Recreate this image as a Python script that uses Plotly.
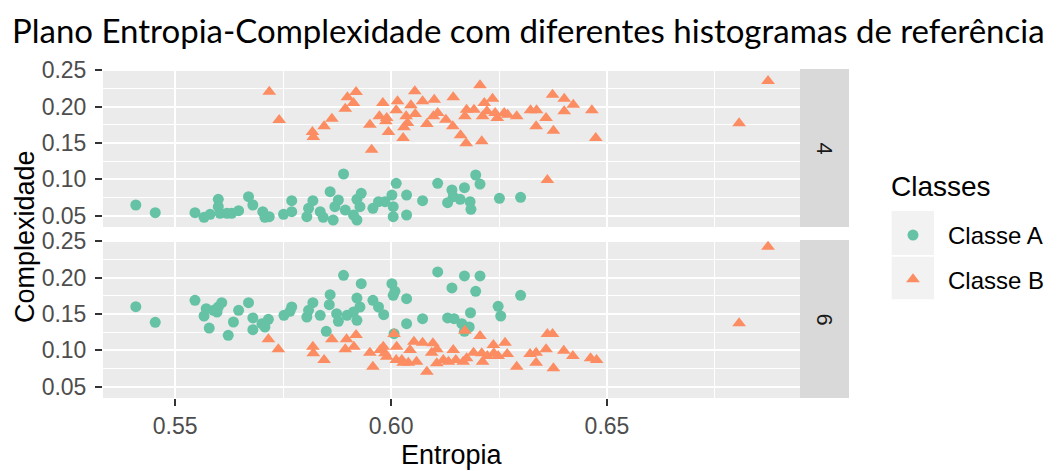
import plotly.graph_objects as go

# ---------------- data ----------------
# Dimensão 4 - Classe A
ent_d4_a = [0.5409, 0.5454, 0.5546, 0.5567, 0.5581, 0.5600, 0.5600, 0.5604, 0.5620, 0.5631,
            0.5647, 0.5670, 0.5680, 0.5703, 0.5708, 0.5718, 0.5751, 0.5770, 0.5770, 0.5805,
            0.5809, 0.5819, 0.5836, 0.5843, 0.5859, 0.5866, 0.5878, 0.5870, 0.5890, 0.5894,
            0.5913, 0.5921, 0.5921, 0.5931, 0.5928, 0.5958, 0.5971, 0.5986, 0.6002, 0.6012,
            0.6005, 0.6005, 0.6036, 0.6036, 0.6073, 0.6108, 0.6131, 0.6141, 0.6144, 0.6170,
            0.6160, 0.6183, 0.6185, 0.6196, 0.6206, 0.6251, 0.6300]
com_d4_a = [0.0647, 0.0541, 0.0541, 0.0478, 0.0519, 0.0725, 0.0624, 0.0533, 0.0533, 0.0533,
            0.0569, 0.0761, 0.0647, 0.0555, 0.0478, 0.0486, 0.0519, 0.0706, 0.0555, 0.0486,
            0.0602, 0.0706, 0.0555, 0.0478, 0.0830, 0.0441, 0.0716, 0.0624, 0.1073, 0.0578,
            0.0510, 0.0441, 0.0725, 0.0808, 0.0624, 0.0602, 0.0692, 0.0692, 0.0784, 0.0945,
            0.0624, 0.0486, 0.0784, 0.0510, 0.0706, 0.0945, 0.0679, 0.0853, 0.0761, 0.0885,
            0.0725, 0.0692, 0.0588, 0.1059, 0.0935, 0.0739, 0.0753]

# Dimensão 4 - Classe B
ent_d4_b = [0.5718, 0.5741, 0.5818, 0.5820, 0.5845, 0.5863, 0.5894, 0.5899, 0.5913, 0.5919,
            0.5951, 0.5955, 0.5973, 0.5981, 0.5990, 0.5988, 0.5994, 0.6012, 0.6015, 0.6028,
            0.6030, 0.6035, 0.6038, 0.6046, 0.6056, 0.6055, 0.6073, 0.6083, 0.6100, 0.6098,
            0.6108, 0.6127, 0.6143, 0.6144, 0.6161, 0.6174, 0.6171, 0.6175, 0.6192, 0.6206,
            0.6210, 0.6212, 0.6216, 0.6222, 0.6235, 0.6241, 0.6246, 0.6262, 0.6270, 0.6291,
            0.6323, 0.6337, 0.6336, 0.6359, 0.6374, 0.6376, 0.6401, 0.6401, 0.6422, 0.6465,
            0.6474, 0.6362, 0.6806, 0.6873]
com_d4_b = [0.2203, 0.1815, 0.1650, 0.1581, 0.1728, 0.1832, 0.1970, 0.2126, 0.2048, 0.2199,
            0.1750, 0.1407, 0.1865, 0.2048, 0.1842, 0.1797, 0.1650, 0.1948, 0.2071, 0.1567,
            0.1714, 0.1865, 0.1773, 0.2017, 0.1897, 0.2209, 0.2071, 0.1760, 0.2093, 0.1865,
            0.1911, 0.1819, 0.1728, 0.2126, 0.1604, 0.1495, 0.1865, 0.1956, 0.1956, 0.2291,
            0.1522, 0.1865, 0.2048, 0.1934, 0.2107, 0.1911, 0.1842, 0.1911, 0.1887, 0.1865,
            0.1948, 0.1948, 0.1728, 0.1842, 0.2162, 0.1668, 0.2107, 0.1934, 0.2025, 0.1948,
            0.1567, 0.0990, 0.1769, 0.2350]

# Dimensão 6 - Classe A
ent_d6_a = [0.5409, 0.5454, 0.5546, 0.5572, 0.5567, 0.5579, 0.5589, 0.5600, 0.5608, 0.5597,
            0.5623, 0.5635, 0.5647, 0.5670, 0.5680, 0.5680, 0.5701, 0.5708, 0.5716, 0.5752,
            0.5770, 0.5766, 0.5805, 0.5809, 0.5819, 0.5836, 0.5850, 0.5859, 0.5857, 0.5874,
            0.5878, 0.5890, 0.5898, 0.5921, 0.5921, 0.5928, 0.5931, 0.5913, 0.5958, 0.5971,
            0.5983, 0.6002, 0.6009, 0.6005, 0.6007, 0.6036, 0.6036, 0.6073, 0.6108, 0.6131,
            0.6141, 0.6146, 0.6164, 0.6170, 0.6170, 0.6184, 0.6181, 0.6196, 0.6206, 0.6248,
            0.6254, 0.6300]
com_d6_a = [0.1599, 0.1385, 0.1687, 0.1571, 0.1471, 0.1306, 0.1549, 0.1595, 0.1654, 0.1526,
            0.1206, 0.1389, 0.1549, 0.1654, 0.1444, 0.1283, 0.1365, 0.1320, 0.1426, 0.1481,
            0.1595, 0.1536, 0.1457, 0.1549, 0.1654, 0.1481, 0.1261, 0.1764, 0.1626, 0.1503,
            0.1398, 0.2030, 0.1481, 0.1412, 0.1718, 0.1595, 0.1915, 0.1526, 0.1687, 0.1595,
            0.1489, 0.1915, 0.1810, 0.1755, 0.1228, 0.1709, 0.1365, 0.1434, 0.2076, 0.1444,
            0.1856, 0.1434, 0.1365, 0.2021, 0.1261, 0.1516, 0.1320, 0.1810, 0.2021, 0.1604,
            0.1471, 0.1755]

# Dimensão 6 - Classe B
ent_d6_b = [0.5716, 0.5739, 0.5819, 0.5820, 0.5845, 0.5863, 0.5897, 0.5894, 0.5914, 0.5919,
            0.5951, 0.5958, 0.5975, 0.5982, 0.5986, 0.5990, 0.6007, 0.6013, 0.6012, 0.6025,
            0.6028, 0.6040, 0.6044, 0.6053, 0.6059, 0.6073, 0.6083, 0.6094, 0.6097, 0.6106,
            0.6106, 0.6121, 0.6133, 0.6144, 0.6150, 0.6167, 0.6175, 0.6171, 0.6191, 0.6206,
            0.6210, 0.6212, 0.6223, 0.6237, 0.6238, 0.6248, 0.6264, 0.6269, 0.6291, 0.6322,
            0.6336, 0.6336, 0.6359, 0.6362, 0.6374, 0.6376, 0.6400, 0.6421, 0.6462, 0.6476,
            0.6806, 0.6873]
com_d6_b = [0.1151, 0.1014, 0.1049, 0.0959, 0.0867, 0.1151, 0.1151, 0.1014, 0.1049, 0.1210,
            0.0967, 0.0775, 0.1004, 0.1049, 0.0959, 0.0912, 0.1224, 0.1049, 0.0867, 0.0867,
            0.0830, 0.0830, 0.1004, 0.1118, 0.0843, 0.1104, 0.0706, 0.0967, 0.1096, 0.1014,
            0.0821, 0.0867, 0.0843, 0.1004, 0.0867, 0.0843, 0.0890, 0.1269, 0.0967, 0.1196,
            0.0959, 0.0843, 0.0922, 0.1073, 0.0959, 0.0922, 0.1104, 0.0949, 0.0775, 0.0949,
            0.0967, 0.0830, 0.1014, 0.1224, 0.1224, 0.0753, 0.0995, 0.0922, 0.0890, 0.0867,
            0.1371, 0.2423]

classes = ["Classe A", "Classe B"]
facets = ["4", "6"]
x_ticks = [0.55, 0.60, 0.65]
y_ticks = [0.05, 0.10, 0.15, 0.20, 0.25]

# ---------------- style ----------------
OFF = 8                      # default page margin of the html body
W, H = 1058 - OFF, 471 - OFF
COL_A = "#66C2A5"
COL_B = "#FC8D62"
PANEL_BG = "#EBEBEB"
STRIP_BG = "#D9D9D9"
AX_FONT = "Liberation Sans, Arial, sans-serif"

px_l, px_r = 103, 800
top_t, top_b = 69, 227
bot_t, bot_b = 240, 398
x_range = [0.5333, 0.6947]
y_range = [0.0345, 0.2515]


def fx(p):
    return (p - OFF) / W


def fy(p):
    return 1 - (p - OFF) / H


fig = go.Figure()

fig.add_trace(go.Scatter(x=ent_d4_a, y=com_d4_a, mode="markers", name=classes[0],
                         legendgroup="A", showlegend=True,
                         marker=dict(color=COL_A, size=11, symbol="circle"),
                         xaxis="x2", yaxis="y2"))
fig.add_trace(go.Scatter(x=ent_d4_b, y=com_d4_b, mode="markers", name=classes[1],
                         legendgroup="B", showlegend=True,
                         marker=dict(color=COL_B, size=12, symbol="triangle-up"),
                         xaxis="x2", yaxis="y2"))
fig.add_trace(go.Scatter(x=ent_d6_a, y=com_d6_a, mode="markers", name=classes[0],
                         legendgroup="A", showlegend=False,
                         marker=dict(color=COL_A, size=11, symbol="circle"),
                         xaxis="x", yaxis="y"))
fig.add_trace(go.Scatter(x=ent_d6_b, y=com_d6_b, mode="markers", name=classes[1],
                         legendgroup="B", showlegend=False,
                         marker=dict(color=COL_B, size=12, symbol="triangle-up"),
                         xaxis="x", yaxis="y"))

grid_common = dict(showgrid=True, gridcolor="white", gridwidth=2,
                   zeroline=False, showline=False)

xa_common = dict(range=x_range, domain=[fx(px_l), fx(px_r)], tickvals=x_ticks,
                 ticktext=[f"{v:.2f}" for v in x_ticks],
                 minor=dict(showgrid=True, gridcolor="white", gridwidth=1, ticks="",
                            tick0=0.525, dtick=0.025),
                 **grid_common)

ya_common = dict(range=y_range, tickvals=y_ticks, ticktext=[f"{v:.2f}" for v in y_ticks],
                 ticks="outside", ticklen=7, tickwidth=1.5, tickcolor="#333333",
                 tickfont=dict(family=AX_FONT, size=23, color="#4D4D4D"),
                 ticklabelstandoff=4, automargin=False,
                 minor=dict(showgrid=True, gridcolor="white", gridwidth=1, ticks="",
                            tick0=0.025, dtick=0.05),
                 **grid_common)

fig.update_layout(
    width=W, height=H,
    margin=dict(l=0, r=0, t=0, b=0),
    paper_bgcolor="white",
    plot_bgcolor=PANEL_BG,
    showlegend=True,
    xaxis=dict(anchor="y", ticks="outside", ticklen=7, tickwidth=1.5, tickcolor="#333333",
               tickfont=dict(family=AX_FONT, size=23, color="#4D4D4D"),
               ticklabelstandoff=0, automargin=False, **xa_common),
    xaxis2=dict(anchor="y2", matches="x", showticklabels=False, ticks="",
                automargin=False, **xa_common),
    yaxis=dict(anchor="x", domain=[fy(bot_b), fy(bot_t)], **ya_common),
    yaxis2=dict(anchor="x2", domain=[fy(top_b), fy(top_t)], matches="y", **ya_common),
    legend=dict(
        x=fx(878), y=fy(213), xanchor="left", yanchor="top",
        bgcolor="rgba(0,0,0,0)",
        font=dict(family=AX_FONT, size=24, color="black"),
        itemwidth=60, tracegroupgap=10,
    ),
)

# strips
shapes = []
for (t, b) in [(top_t, top_b), (bot_t, bot_b)]:
    shapes.append(dict(type="rect", xref="paper", yref="paper",
                       x0=fx(800), x1=fx(849), y0=fy(b), y1=fy(t),
                       fillcolor=STRIP_BG, line=dict(width=0), layer="below"))
# legend key backgrounds
for (t, b) in [(211, 255), (256.7, 299.3)]:
    shapes.append(dict(type="rect", xref="paper", yref="paper",
                       x0=fx(891.7), x1=fx(934), y0=fy(b), y1=fy(t),
                       fillcolor="#F2F2F2", line=dict(width=0), layer="below"))
fig.update_layout(shapes=shapes)

annotations = [
    dict(text="Plano Entropia-Complexidade com diferentes histogramas de referência",
         xref="paper", yref="paper", x=fx(10), y=fy(30), xanchor="left", yanchor="middle",
         showarrow=False, font=dict(family="Lato, sans-serif", size=33, color="black")),
    dict(text="Entropia", xref="paper", yref="paper", x=fx(451.5), y=fy(455),
         xanchor="center", yanchor="middle", showarrow=False,
         font=dict(family=AX_FONT, size=27, color="black")),
    dict(text="Complexidade", xref="paper", yref="paper", x=fx(25), y=fy(237),
         xanchor="center", yanchor="middle", showarrow=False, textangle=-90,
         font=dict(family=AX_FONT, size=27, color="black")),
    dict(text="Classes", xref="paper", yref="paper", x=fx(889), y=fy(186),
         xanchor="left", yanchor="middle", showarrow=False,
         font=dict(family=AX_FONT, size=28, color="black")),
    dict(text=facets[0], xref="paper", yref="paper", x=fx(824.5), y=fy((top_t + top_b) / 2),
         xanchor="center", yanchor="middle", showarrow=False, textangle=90,
         font=dict(family=AX_FONT, size=22, color="#1A1A1A")),
    dict(text=facets[1], xref="paper", yref="paper", x=fx(824.5), y=fy((bot_t + bot_b) / 2),
         xanchor="center", yanchor="middle", showarrow=False, textangle=90,
         font=dict(family=AX_FONT, size=22, color="#1A1A1A")),
]
fig.update_layout(annotations=annotations)

fig.write_html("out.html")
